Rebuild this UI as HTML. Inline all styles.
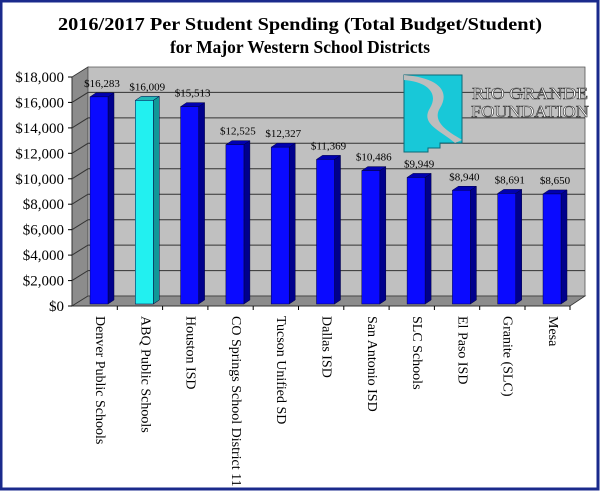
<!DOCTYPE html>
<html><head><meta charset="utf-8"><style>
html,body{margin:0;padding:0;background:#fff;}
svg{display:block;font-family:"Liberation Serif",serif;}
</style></head><body>
<svg width="600" height="491" viewBox="0 0 600 491" xmlns="http://www.w3.org/2000/svg">
<rect x="1" y="1" width="597" height="488" fill="#fff" stroke="#1a2a8c" stroke-width="3"/>
<text x="300" y="30" text-anchor="middle" font-size="18" font-weight="bold" textLength="484" lengthAdjust="spacingAndGlyphs">2016/2017 Per Student Spending (Total Budget/Student)</text>
<text x="300" y="53" text-anchor="middle" font-size="18" font-weight="bold" textLength="260" lengthAdjust="spacingAndGlyphs">for Major Western School Districts</text>
<!-- walls -->
<polygon points="72,306 72,77 88,67 88,296" fill="#8c8c8c" stroke="#333" stroke-width="0.8"/>
<polygon points="88,67 585,67 585,296 88,296" fill="#c0c0c0" stroke="#555" stroke-width="0.8"/>
<polygon points="72,306 570,306 585,296 88,296" fill="#8c8c8c" stroke="#333" stroke-width="0.8"/>
<g stroke="#333" stroke-width="1">
<polyline points="72,280.6 88,270.6 585,270.6" fill="none"/>
<polyline points="72,255.1 88,245.1 585,245.1" fill="none"/>
<polyline points="72,229.7 88,219.7 585,219.7" fill="none"/>
<polyline points="72,204.2 88,194.2 585,194.2" fill="none"/>
<polyline points="72,178.8 88,168.8 585,168.8" fill="none"/>
<polyline points="72,153.3 88,143.3 585,143.3" fill="none"/>
<polyline points="72,127.9 88,117.9 585,117.9" fill="none"/>
<polyline points="72,102.4 88,92.4 585,92.4" fill="none"/>
<line x1="72" y1="306" x2="72" y2="77"/>
<line x1="72" y1="306" x2="570" y2="306"/>
</g>
<g stroke="#000" stroke-width="1">
<line x1="68" y1="306" x2="72" y2="306"/><line x1="68" y1="280.6" x2="72" y2="280.6"/><line x1="68" y1="255.1" x2="72" y2="255.1"/><line x1="68" y1="229.7" x2="72" y2="229.7"/><line x1="68" y1="204.2" x2="72" y2="204.2"/><line x1="68" y1="178.8" x2="72" y2="178.8"/><line x1="68" y1="153.3" x2="72" y2="153.3"/><line x1="68" y1="127.9" x2="72" y2="127.9"/><line x1="68" y1="102.4" x2="72" y2="102.4"/><line x1="68" y1="77" x2="72" y2="77"/>
<line x1="117.3" y1="306" x2="117.3" y2="310"/><line x1="162.6" y1="306" x2="162.6" y2="310"/><line x1="207.9" y1="306" x2="207.9" y2="310"/><line x1="253.2" y1="306" x2="253.2" y2="310"/><line x1="298.5" y1="306" x2="298.5" y2="310"/><line x1="343.8" y1="306" x2="343.8" y2="310"/><line x1="389.1" y1="306" x2="389.1" y2="310"/><line x1="434.4" y1="306" x2="434.4" y2="310"/><line x1="479.7" y1="306" x2="479.7" y2="310"/><line x1="525" y1="306" x2="525" y2="310"/><line x1="570" y1="306" x2="570" y2="310"/>
</g>
<g font-size="15" text-anchor="end">
<text x="64" y="311">$0</text><text x="64" y="285.6">$2,000</text><text x="64" y="260.1">$4,000</text><text x="64" y="234.7">$6,000</text><text x="64" y="209.2">$8,000</text><text x="64" y="183.8">$10,000</text><text x="64" y="158.3">$12,000</text><text x="64" y="132.9">$14,000</text><text x="64" y="107.4">$16,000</text><text x="64" y="82">$18,000</text>
</g>
<g id="bars" stroke="#000040" stroke-width="0.5"></g>
<g id="vals" font-size="11" text-anchor="middle"></g>
<g id="cats" font-size="14"></g>
<!-- logo -->
<g>
<polygon points="404,75 462,75 462,143 440,143 440,148 428,148 428,152 404,152" fill="#18c8d8" stroke="#0a6a78" stroke-width="1"/>
<path d="M404,75 C440,78 450,92 440,108 C430,124 455,135 462,140 L455,143 C440,130 420,124 430,108 C438,95 430,82 404,80 Z" fill="#bdbdbd"/>
<text x="530" y="99" text-anchor="middle" font-size="17" fill="#fff" stroke="#333" stroke-width="0.6" textLength="116" lengthAdjust="spacingAndGlyphs">RIO GRANDE</text>
<text x="530" y="117" text-anchor="middle" font-size="17" fill="#fff" stroke="#333" stroke-width="0.6" textLength="118" lengthAdjust="spacingAndGlyphs">FOUNDATION</text>
</g>
</svg>
<script>
const d=[["Denver Public Schools",16283,"$16,283"],["ABQ Public Schools",16009,"$16,009"],["Houston ISD",15513,"$15,513"],["CO Springs School District 11",12525,"$12,525"],["Tucson Unified SD",12327,"$12,327"],["Dallas ISD",11369,"$11,369"],["San Antonio ISD",10486,"$10,486"],["SLC Schools",9949,"$9,949"],["El Paso ISD",8940,"$8,940"],["Granite (SLC)",8691,"$8,691"],["Mesa",8650,"$8,650"]];
const NS="http://www.w3.org/2000/svg";
const bars=document.getElementById("bars"),vals=document.getElementById("vals"),cats=document.getElementById("cats");
function el(p,t,a,txt){const e=document.createElementNS(NS,t);for(const k in a)e.setAttribute(k,a[k]);if(txt)e.textContent=txt;p.appendChild(e);}
d.forEach((r,i)=>{
 const x=90+45.3*i,w=18,dx=6,dy=4,b=304,t=b-r[1]*229/18000;
 const cy=i==1;
 const f=cy?"#22f0f0":"#0a0aff",s=cy?"#109898":"#00008c",tp=cy?"#20b8b8":"#0000b0";
 el(bars,"polygon",{points:`${x+w},${b} ${x+w+dx},${b-dy} ${x+w+dx},${t-dy} ${x+w},${t}`,fill:s});
 el(bars,"polygon",{points:`${x},${t} ${x+dx},${t-dy} ${x+w+dx},${t-dy} ${x+w},${t}`,fill:tp});
 el(bars,"rect",{x:x,y:t,width:w,height:b-t,fill:f});
 el(vals,"text",{x:x+12,y:t-10},r[2]);
 const cx=x+6;
 el(cats,"text",{x:0,y:0,transform:`translate(${cx},316) rotate(90)`},r[0]);
});
</script>
</body></html>
